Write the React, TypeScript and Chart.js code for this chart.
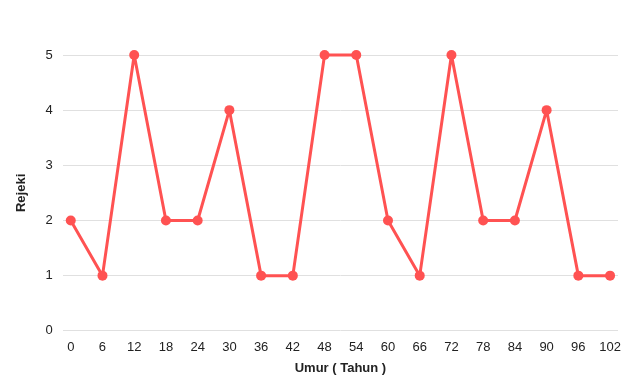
import React, { useEffect, useRef } from "react";
import { Chart, registerables } from "chart.js";

Chart.register(...registerables);

const ages = [0, 6, 12, 18, 24, 30, 36, 42, 48, 54, 60, 66, 72, 78, 84, 90, 96, 102];
const rejeki = [2, 1, 5, 2, 2, 4, 1, 1, 5, 5, 2, 1, 5, 2, 2, 4, 1, 1];
const yTicks = [0, 1, 2, 3, 4, 5];
const xTitle = "Umur ( Tahun )";
const yTitle = "Rejeki";

const FONT = "'Liberation Sans', Arial, sans-serif";

export default function App() {
  const ref = useRef<HTMLCanvasElement>(null);
  useEffect(() => {
    document.body.style.margin = "0";
    const ctx = ref.current!;
    const chart = new Chart(ctx, {
      type: "line",
      data: {
        datasets: [
          {
            data: ages.map((a, i) => ({ x: a, y: rejeki[i] })),
            borderColor: "#ff5252",
            backgroundColor: "#ff5252",
            borderWidth: 3,
            borderJoinStyle: "round",
            borderCapStyle: "round",
            pointRadius: 5,
            pointHoverRadius: 5,
            pointBorderWidth: 0,
            tension: 0,
            clip: false as any,
          },
        ],
      },
      options: {
        responsive: false,
        animation: false,
        layout: { padding: { top: 55, right: 22, left: 14, bottom: 13 } },
        plugins: { legend: { display: false }, tooltip: { enabled: false } },
        scales: {
          x: {
            type: "linear",
            min: -1.5,
            max: 103.5,
            afterBuildTicks: (axis: any) => {
              axis.ticks = ages.map((v) => ({ value: v }));
            },
            grid: { display: false },
            border: { display: false },
            ticks: {
              color: "#222",
              font: { family: FONT, size: 13 },
              padding: 1,
              maxRotation: 0,
              autoSkip: false,
            },
            title: {
              display: true,
              text: xTitle,
              color: "#222",
              font: { family: FONT, size: 13, weight: "bold" },
              padding: { top: 4, bottom: 0 },
            },
          },
          y: {
            min: 0,
            max: 5,
            afterBuildTicks: (axis: any) => {
              axis.ticks = yTicks.map((v) => ({ value: v }));
            },
            grid: { color: "#e0e0e0", drawTicks: false, lineWidth: 1 },
            border: { display: false },
            ticks: {
              color: "#222",
              font: { family: FONT, size: 13 },
              padding: 10,
            },
            title: {
              display: true,
              text: yTitle,
              color: "#222",
              font: { family: FONT, size: 13, weight: "bold" },
              padding: { top: 0, bottom: 6 },
            },
          },
        },
      },
    });
    return () => chart.destroy();
  }, []);
  return <canvas ref={ref} width={640} height={389} style={{ display: "block" }} />;
}
